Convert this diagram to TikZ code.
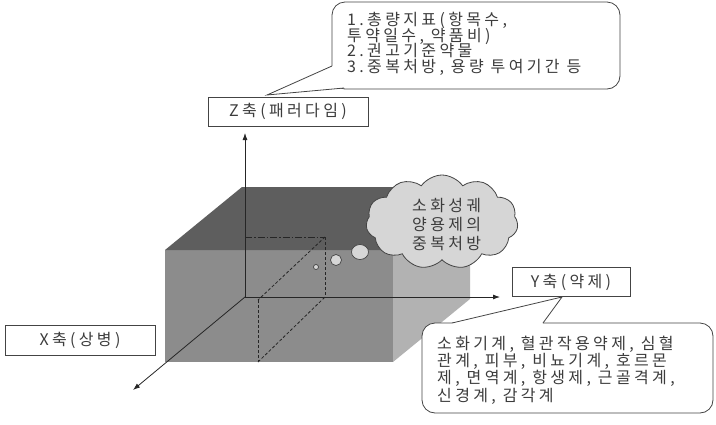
\documentclass[tikz,border=0pt]{standalone}
\usepackage{fontspec}
\setmainfont{Noto Sans CJK KR}[LetterSpace=21]
\usetikzlibrary{shapes.symbols,arrows.meta}
\definecolor{topface}{HTML}{5E5E5E}
\definecolor{frontface}{HTML}{8C8C8C}
\definecolor{sideface}{HTML}{B2B2B2}
\definecolor{cloudfill}{HTML}{D6D6D6}
\definecolor{ink}{HTML}{3C3C3C}
\definecolor{edge}{HTML}{444444}
\tikzset{
  txt/.style={anchor=base west,inner sep=0pt,text=ink,font=\fontsize{16}{17}\selectfont},
  axisbox/.style={draw=edge,line width=0.8pt,fill=white,inner sep=0pt,text=ink,font=\fontsize{16}{17}\selectfont},
  axisline/.style={draw=black!85,line width=0.8pt,-{Latex[length=7pt,width=5pt]}},
  callbox/.style={draw=edge,line width=0.8pt,fill=white,rounded corners=13pt},
  pointer/.style={draw=edge,line width=0.8pt},
  dashline/.style={draw=black!85,line width=0.8pt,dash pattern=on 3pt off 2pt},
  dashdotline/.style={draw=black!85,line width=0.8pt,dash pattern=on 7pt off 2pt on 1.5pt off 2pt},
  bubble/.style={draw=edge,line width=0.7pt,fill=cloudfill}
}
\begin{document}
\begin{tikzpicture}[x=1pt,y=-1pt]
\useasboundingbox (0,0) rectangle (716,424);
% cube
\fill[frontface] (165,250) rectangle (393,362);
\fill[topface] (165,250) -- (242,187) -- (470,187) -- (393,250) -- cycle;
\fill[sideface] (393,250) -- (470,187) -- (470,299) -- (393,362) -- cycle;
% axes
\coordinate (O) at (245,297);
\coordinate (Zend) at (245,133);
\coordinate (Yend) at (500,297);
\coordinate (Xend) at (133,390);
\draw[axisline] (O) -- (Zend);
\draw[axisline] (O) -- (Yend);
\draw[axisline] (O) -- (Xend);
% inner point
\coordinate (Pz) at (245,237);
\coordinate (P) at (325,237);
\coordinate (Py) at (325,297);
\coordinate (Q) at (258,300);
\coordinate (Qb) at (258,362);
\draw[dashdotline] (Pz) -- (P);
\draw[dashline] (P) -- (Py);
\draw[dashline] (P) -- (Q);
\draw[dashline] (Q) -- (Qb);
\draw[dashline] (Qb) -- (Py);
% thought bubbles
\draw[bubble] (316,267) circle[radius=2.5];
\draw[bubble] (336,260) circle[radius=5.5];
\draw[bubble] (360,252) ellipse[x radius=8.5,y radius=7.5];
\node[cloud,cloud puffs=11,cloud puff arc=110,aspect=1.6,draw=edge,line width=0.8pt,fill=cloudfill,minimum width=152pt,minimum height=94pt,inner sep=0pt] (cl) at (442,222) {};
\node[txt] (c1) at (412,211) {소화성궤};
\node[txt] (c2) at (412,230) {양용제의};
\node[txt] (c3) at (412,249) {중복처방};
% axis boxes
\node[axisbox,minimum width=160pt,minimum height=29pt] (zb) at (288,111.5) {Z축(패러다임)};
\node[axisbox,minimum width=118pt,minimum height=29pt] (yb) at (571,282) {Y축(약제)};
\node[axisbox,minimum width=150pt,minimum height=30pt] (xb) at (80,340) {X축(상병)};
% top callout
\draw[callbox] (332,2) rectangle (620,89);
\coordinate (ta) at (332,66);
\coordinate (tb) at (344,88);
\coordinate (tt) at (267,95);
\fill[white] (ta) -- (tt) -- (tb) -- (350,70) -- cycle;
\draw[pointer] (ta) -- (tt) -- (tb);
\node[txt] (t1) at (347,25.5) {1.총량지표(항목수,};
\node[txt] (t2) at (347,41) {투약일수, 약품비)};
\node[txt] (t3) at (347,56.5) {2.권고기준약물};
\node[txt] (t4) at (347,72.5) {3.중복처방, 용량 투여기간 등};
% bottom callout
\draw[callbox] (422,323) rectangle (713,413);
\coordinate (ba) at (452,323);
\coordinate (bb) at (543,323);
\coordinate (bt) at (562,297);
\fill[white] (ba) -- (bt) -- (bb) -- (540,330) -- (455,330) -- cycle;
\draw[pointer] (ba) -- (bt) -- (bb);
\node[txt] (b1) at (437,349) {소화기계, 혈관작용약제, 심혈};
\node[txt] (b2) at (437,366) {관계, 피부, 비뇨기계, 호르몬};
\node[txt] (b3) at (437,383) {제, 면역계, 항생제, 근골격계,};
\node[txt] (b4) at (437,401) {신경계, 감각계};
\end{tikzpicture}
\end{document}
